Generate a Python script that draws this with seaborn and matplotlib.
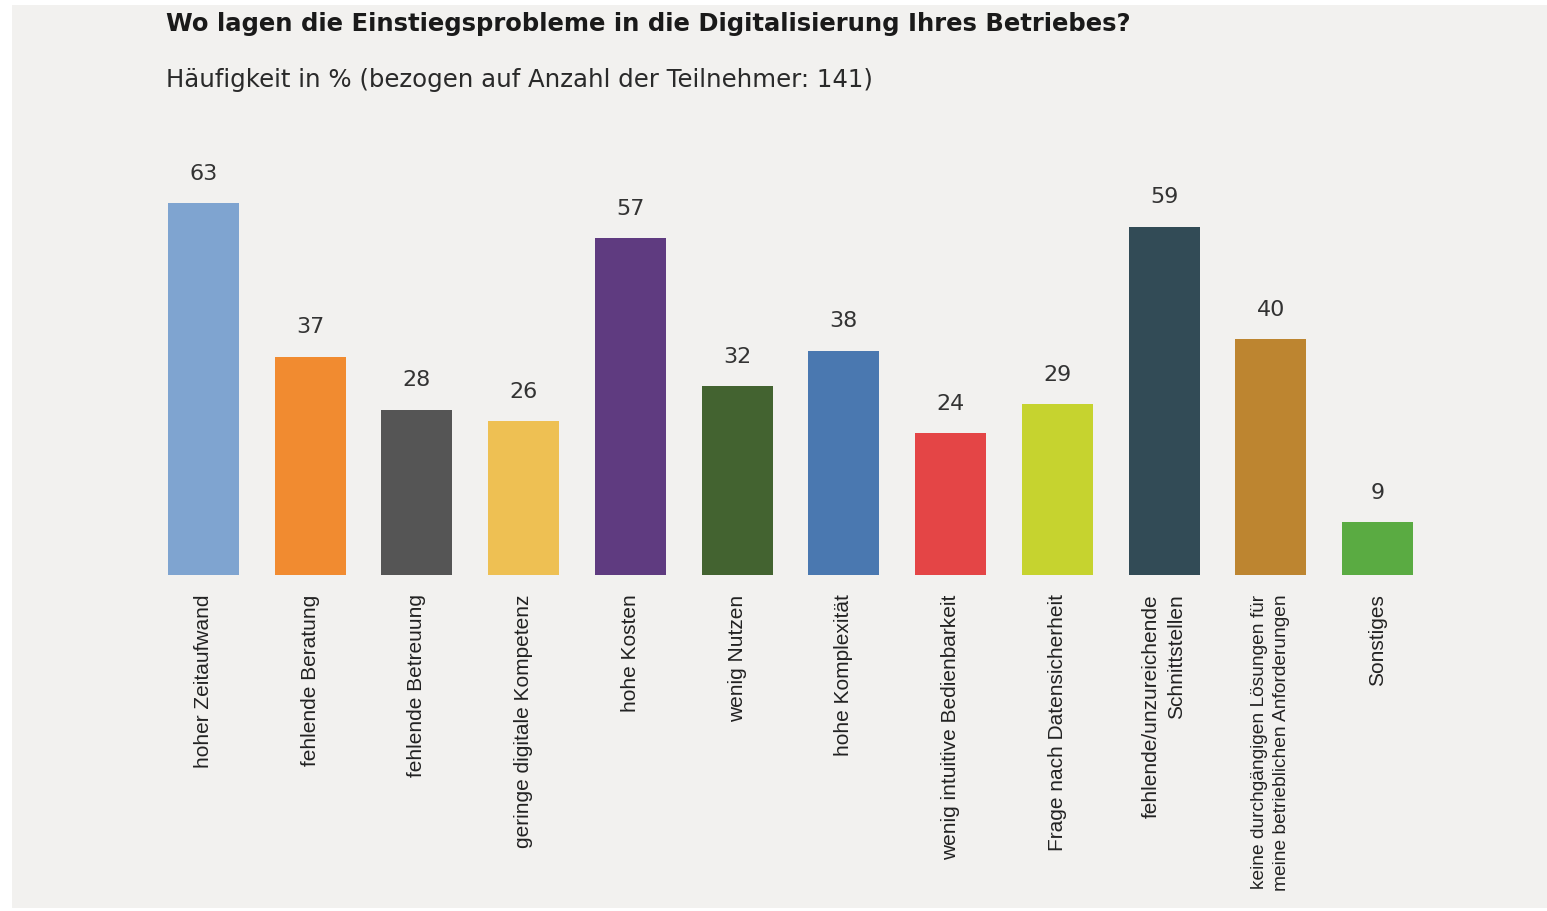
import matplotlib
matplotlib.use("Agg")
import matplotlib.pyplot as plt
import seaborn as sns
import pandas as pd
from matplotlib.patches import Rectangle

categories = [
    "hoher Zeitaufwand",
    "fehlende Beratung",
    "fehlende Betreuung",
    "geringe digitale Kompetenz",
    "hohe Kosten",
    "wenig Nutzen",
    "hohe Komplexität",
    "wenig intuitive Bedienbarkeit",
    "Frage nach Datensicherheit",
    "fehlende/unzureichende\nSchnittstellen",
    "keine durchgängigen Lösungen für\nmeine betrieblichen Anforderungen",
    "Sonstiges",
]
values = [63, 37, 28, 26, 57, 32, 38, 24, 29, 59, 40, 9]
colors = ["#7fa4d0", "#f18b30", "#555555", "#eec053", "#5f3b80", "#436330",
          "#4a78b0", "#e44546", "#c6d32f", "#324b56", "#bd8530", "#5aab42"]

title = "Wo lagen die Einstiegsprobleme in die Digitalisierung Ihres Betriebes?"
subtitle = "Häufigkeit in % (bezogen auf Anzahl der Teilnehmer: 141)"

sns.set_theme(style="white")
plt.rcParams['font.family'] = ['DejaVu Sans']

W, H = 1547, 911
fig = plt.figure(figsize=(W / 100, H / 100), dpi=100, facecolor="white")
bg = "#f2f1ef"
fig.patches.append(Rectangle((12 / W, 3 / H), 1 - 12 / W, (906 - 3) / H,
                             transform=fig.transFigure, facecolor=bg,
                             edgecolor="none", zorder=-10))

L, R = 150.1, 1430.9
bottom_px, top_px = 575, 575 - 70 * 5.905
ax = fig.add_axes([L / W, (H - bottom_px) / H, (R - L) / W, (bottom_px - top_px) / H])
ax.set_facecolor("none")

df = pd.DataFrame({"cat": categories, "val": values})
sns.barplot(data=df, x="cat", y="val", hue="cat", palette=colors, legend=False,
            width=0.665, saturation=1, linewidth=0, edgecolor="none", ax=ax)
ax.set_xlim(-0.5, 11.5)
ax.set_ylim(0, 70)
ax.set_xlabel("")
ax.set_ylabel("")
ax.set_yticks([])
for s in ax.spines.values():
    s.set_visible(False)

for i, v in enumerate(values):
    ax.annotate(str(v), (i, v), xytext=(0, 21), textcoords="offset points",
                ha="center", va="center", fontsize=16, color="#333333")

ax.set_xticks(range(len(categories)))
ax.set_xticklabels(categories, rotation=90, fontsize=15, color="#222222",
                   family=['Liberation Sans', 'DejaVu Sans'], ha="center", va="top",
                   multialignment="right", linespacing=1.4)
ax.get_xticklabels()[10].set_fontsize(13.8)
ax.tick_params(axis="x", length=0, pad=14)

fig.text(166 / W, 1 - 24 / H, title, fontsize=17.5, fontweight="bold",
         color="#1a1a1a", ha="left", va="center")
fig.text(166 / W, 1 - 80 / H, subtitle, fontsize=17.6, color="#2a2a2a",
         ha="left", va="center")

fig.savefig("out.png", dpi=100, facecolor="white")
